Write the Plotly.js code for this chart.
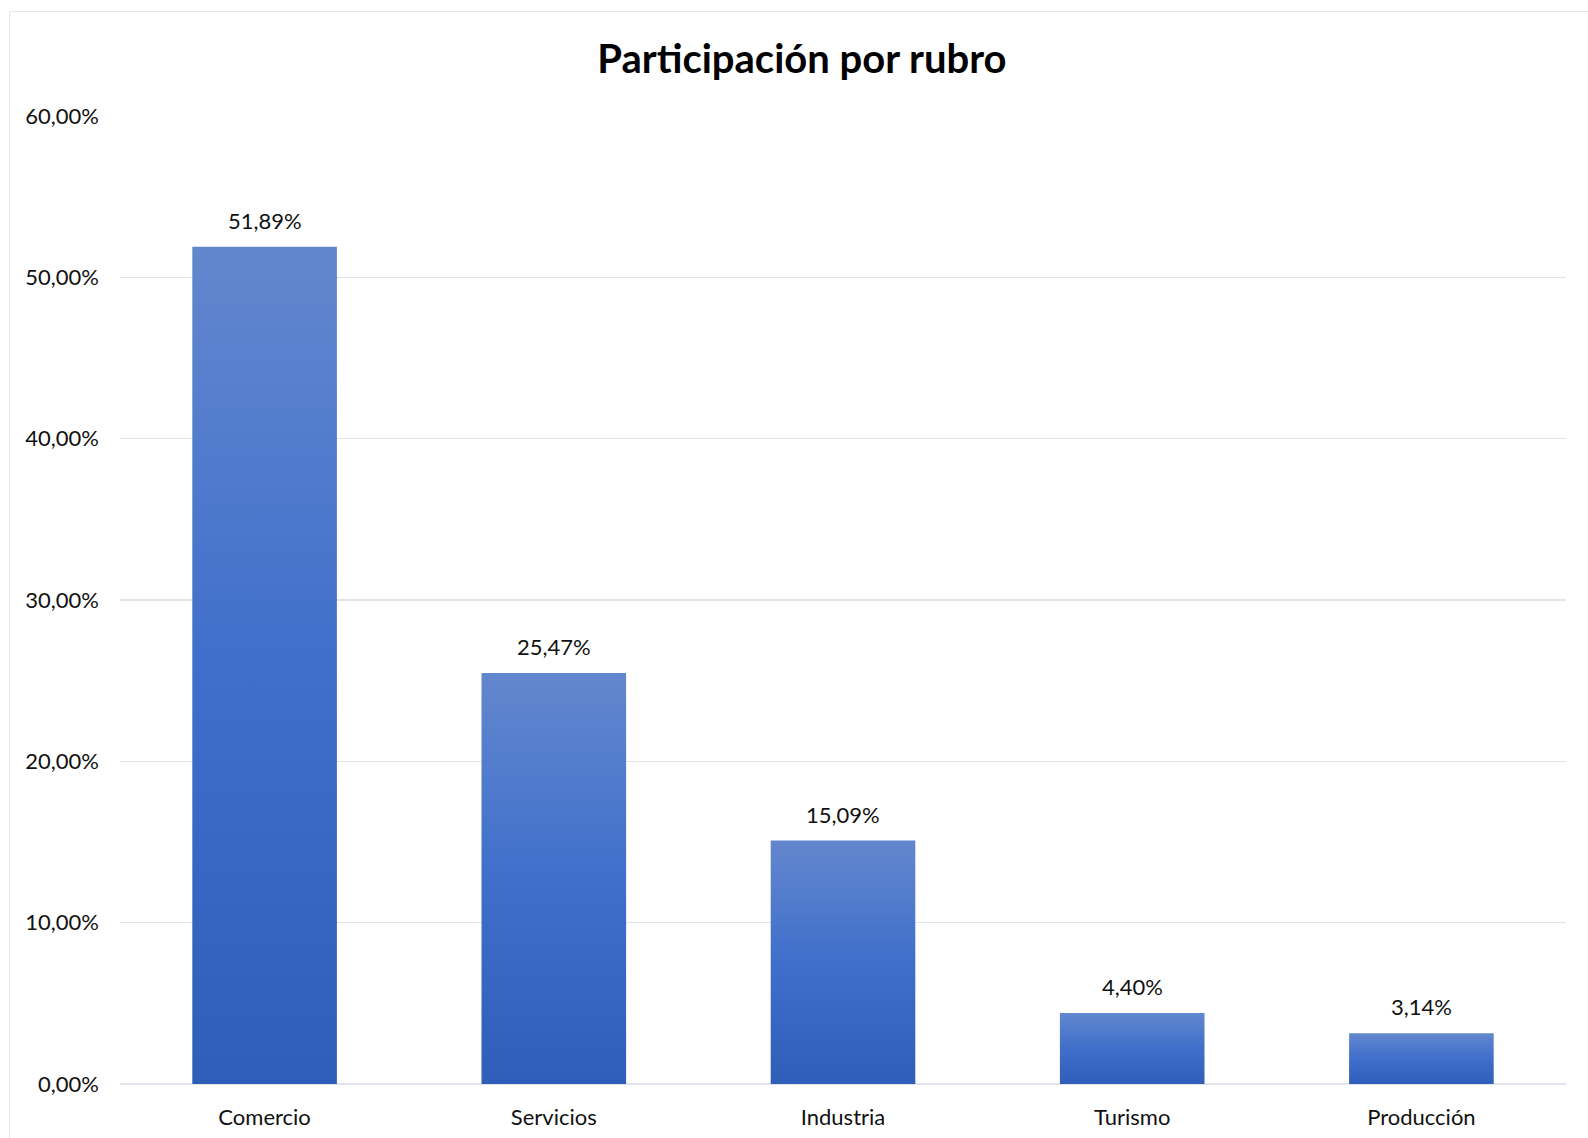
<!DOCTYPE html>
<html>
<head>
<meta charset="utf-8">
<script src="https://cdn.plot.ly/plotly-3.0.1.min.js"></script>
<style>
  html, body { margin: 0; padding: 0; background: #ffffff; }
  #wrap { position: relative; width: 1588px; height: 1138px; overflow: hidden; }
  #chart { position: absolute; left: 0; top: 0; width: 1588px; height: 1138px; }
  #frame { position: absolute; left: 9px; top: 11px; width: 1600px; height: 1200px;
           border-left: 1.5px solid #E4E7EC; border-top: 1.5px solid #E4E7EC;
           pointer-events: none; }
</style>
</head>
<body>
<div id="wrap">
  <div id="chart"></div>
  <div id="frame"></div>
</div>
<script>
const categories = ["Comercio", "Servicios", "Industria", "Turismo", "Producción"];
const shares = [0.5189, 0.2547, 0.1509, 0.0440, 0.0314];
const yTicks = [0, 0.1, 0.2, 0.3, 0.4, 0.5, 0.6];
const chartTitle = "Participación por rubro";

const FONT = "Lato, 'Noto Sans', sans-serif";

const trace = {
  type: "bar",
  x: categories,
  y: shares,
  width: 0.5,
  marker: { color: "#4472C4", line: { width: 0 } },
  hoverinfo: "none"
};

const annotations = categories.map((c, i) => ({
  x: c, y: shares[i], xref: "x", yref: "y",
  text: (shares[i] * 100).toFixed(2).replace(".", ",") + "%",
  showarrow: false, yanchor: "bottom", yshift: 11,
  font: { family: FONT, size: 22, color: "#111111" }
}));

const layout = {
  width: 1588, height: 1138,
  margin: { l: 120, r: 22, t: 116, b: 54 },
  paper_bgcolor: "#ffffff", plot_bgcolor: "#ffffff",
  separators: ",.",
  showlegend: false,
  bargap: 0.5,
  title: {
    text: "<b>" + chartTitle + "</b>",
    font: { family: FONT, size: 40, color: "#000000" },
    xref: "container", x: 0.505, xanchor: "center",
    yref: "container", y: 1 - 59 / 1138, yanchor: "middle"
  },
  xaxis: {
    type: "category",
    showgrid: false, showline: false, zeroline: false,
    ticks: "", ticklabelstandoff: 18,
    tickfont: { family: FONT, size: 22, color: "#111111" }
  },
  yaxis: {
    range: [0, 0.6],
    tickvals: yTicks,
    tickformat: ".2%",
    showgrid: true, gridcolor: "#E1E4EA", gridwidth: 1.5,
    zeroline: true, zerolinecolor: "#E1E4EA", zerolinewidth: 1.5,
    showline: false, ticks: "",
    ticklabelstandoff: 20,
    tickfont: { family: FONT, size: 22, color: "#111111" }
  },
  annotations: annotations
};

Plotly.newPlot("chart", [trace], layout, { displayModeBar: false, staticPlot: true }).then(gd => {
  const svgNS = "http://www.w3.org/2000/svg";
  const svg = gd.querySelector("svg.main-svg");
  let defs = svg.querySelector("defs");
  if (!defs) { defs = document.createElementNS(svgNS, "defs"); svg.insertBefore(defs, svg.firstChild); }
  const grad = document.createElementNS(svgNS, "linearGradient");
  grad.setAttribute("id", "barGrad");
  grad.setAttribute("x1", "0"); grad.setAttribute("y1", "0");
  grad.setAttribute("x2", "0"); grad.setAttribute("y2", "1");
  [["0%", "#6387CE"], ["50%", "#3F6FCB"], ["100%", "#2E5EB8"]].forEach(([o, c]) => {
    const s = document.createElementNS(svgNS, "stop");
    s.setAttribute("offset", o); s.setAttribute("stop-color", c);
    grad.appendChild(s);
  });
  defs.appendChild(grad);
  gd.querySelectorAll(".barlayer .point path").forEach(p => {
    p.style.fill = "url(#barGrad)";
  });
});
</script>
</body>
</html>
